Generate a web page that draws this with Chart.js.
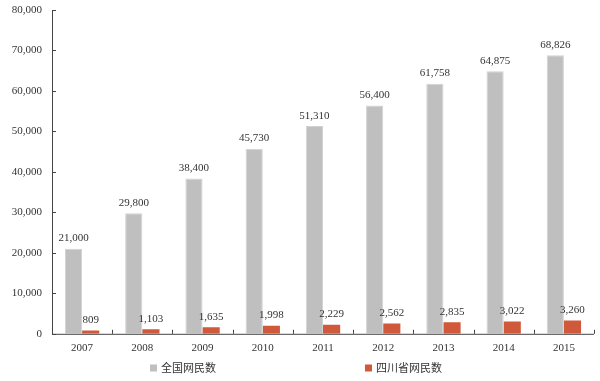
<!DOCTYPE html>
<html>
<head>
<meta charset="utf-8">
<script src="https://cdn.jsdelivr.net/npm/chart.js@4/dist/chart.umd.min.js"></script>
<style>
  html, body { margin: 0; padding: 0; background: #fff; }
  #wrap { width: 600px; height: 381px; }
</style>
</head>
<body>
<div id="wrap"><canvas id="myChart"></canvas></div>
<script>
const years = ["2007", "2008", "2009", "2010", "2011", "2012", "2013", "2014", "2015"];
const nationalUsers = [21000, 29800, 38400, 45730, 51310, 56400, 61758, 64875, 68826];
const sichuanUsers = [809, 1103, 1635, 1998, 2229, 2562, 2835, 3022, 3260];
const seriesNames = ["全国网民数", "四川省网民数"];

const serif = "'Liberation Serif', 'Times New Roman', serif";
const fmt = (v) => v.toLocaleString("en-US");

// value labels above each bar
const barLabels = {
  id: "barLabels",
  afterDatasetsDraw(chart) {
    const ctx = chart.ctx;
    ctx.save();
    ctx.font = "11px " + serif;
    ctx.fillStyle = "#333";
    ctx.textAlign = "center";
    ctx.textBaseline = "bottom";
    chart.data.datasets.forEach((ds, i) => {
      chart.getDatasetMeta(i).data.forEach((bar, j) => {
        ctx.fillText(fmt(ds.data[j]), bar.x, bar.y - 5);
      });
    });
    ctx.restore();
  },
};

// axis lines with small inward ticks
const axisLines = {
  id: "axisLines",
  afterDraw(chart) {
    const { ctx, chartArea: a, scales } = chart;
    ctx.save();
    ctx.strokeStyle = "#444";
    ctx.lineWidth = 1;
    ctx.beginPath();
    ctx.moveTo(a.left + 0.5, a.top);
    ctx.lineTo(a.left + 0.5, a.bottom + 0.5);
    ctx.lineTo(a.right, a.bottom + 0.5);
    scales.y.ticks.forEach((t) => {
      const y = Math.round(scales.y.getPixelForValue(t.value)) + 0.5;
      ctx.moveTo(a.left, y);
      ctx.lineTo(a.left + 4, y);
    });
    const step = (a.right - a.left) / years.length;
    for (let k = 1; k <= years.length; k++) {
      const x = Math.round(a.left + step * k) + 0.5;
      ctx.moveTo(x, a.bottom);
      ctx.lineTo(x, a.bottom - 4);
    }
    ctx.stroke();
    ctx.restore();
  },
};

// legend drawn by hand so the wide gap between items doesn't add height
const bottomLegend = {
  id: "bottomLegend",
  afterDraw(chart) {
    const ctx = chart.ctx;
    const y = 368;
    const starts = [150, 365];
    ctx.save();
    ctx.font = "11px 'Noto Sans CJK SC', sans-serif";
    ctx.textBaseline = "middle";
    ctx.fillStyle = "#333";
    chart.data.datasets.forEach((ds, i) => {
      ctx.fillStyle = ds.backgroundColor;
      ctx.fillRect(starts[i], y - 3.5, 7, 7);
      ctx.fillStyle = "#333";
      ctx.fillText(ds.label, starts[i] + 11, y);
    });
    ctx.restore();
  },
};

new Chart(document.getElementById("myChart"), {
  type: "bar",
  data: {
    labels: years,
    datasets: [
      {
        label: seriesNames[0],
        data: nationalUsers,
        backgroundColor: "#bfbfbf",
        borderColor: "#d2d2d2",
        borderWidth: 1,
      },
      {
        label: seriesNames[1],
        data: sichuanUsers,
        backgroundColor: "#d0593b",
      },
    ],
  },
  options: {
    responsive: true,
    maintainAspectRatio: false,
    animation: false,
    categoryPercentage: 0.57,
    barPercentage: 1.0,
    layout: { padding: { top: 10, right: 6, left: 0, bottom: 18 } },
    scales: {
      x: {
        grid: { display: false, drawTicks: false },
        border: { display: false },
        ticks: { font: { family: serif, size: 11 }, color: "#333", padding: 8 },
      },
      y: {
        min: 0,
        max: 80000,
        afterFit(scale) {
          scale.width = 52;
          scale.paddingTop = 0;
        },
        grid: { display: false, drawTicks: false },
        border: { display: false },
        ticks: {
          stepSize: 10000,
          font: { family: serif, size: 11 },
          color: "#333",
          padding: 10,
          callback: (v) => fmt(v),
        },
      },
    },
    plugins: {
      legend: { display: false },
      tooltip: { enabled: false },
    },
  },
  plugins: [barLabels, axisLines, bottomLegend],
});
</script>
</body>
</html>
